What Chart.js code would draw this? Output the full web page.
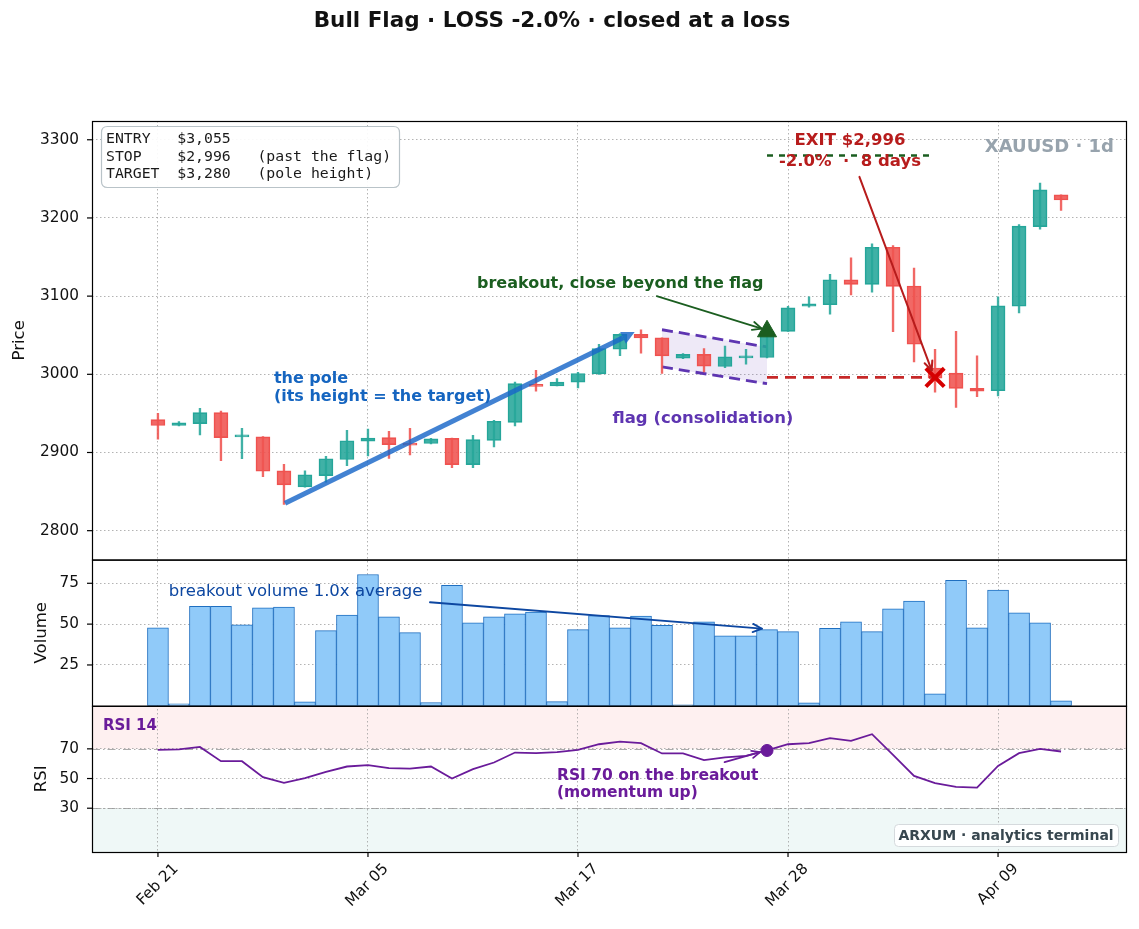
<!DOCTYPE html>
<html><head><meta charset="utf-8">
<script src="https://cdn.jsdelivr.net/npm/chart.js@4/dist/chart.umd.min.js"></script>
<style>html,body{margin:0;padding:0;background:#fff;}#wrap{position:relative;width:1139px;height:929px;}</style>
</head><body><div id="wrap"><canvas id="c" width="1139" height="929"></canvas></div>
<script>
// ---------------- data ----------------
const dates = ['Feb 21','Feb 23','Feb 24','Feb 25','Feb 26','Feb 27','Feb 28','Mar 02','Mar 03','Mar 04',
  'Mar 05','Mar 06','Mar 07','Mar 09','Mar 10','Mar 11','Mar 12','Mar 13','Mar 14','Mar 16',
  'Mar 17','Mar 18','Mar 19','Mar 20','Mar 21','Mar 23','Mar 24','Mar 25','Mar 26','Mar 27',
  'Mar 28','Mar 30','Mar 31','Apr 01','Apr 02','Apr 03','Apr 04','Apr 06','Apr 07','Apr 08',
  'Apr 09','Apr 10','Apr 11','Apr 13'];
const opens  = [2942,2934.5,2937,2951,2920,2920,2876.5,2856,2870.5,2891,2914.5,2919,2912,2911.5,2918,2884.5,2915.5,2938.5,2987,2985,
  2990,3000.5,3032,3051,3046.5,3020.5,3025.5,3010,3021,3021.5,3055,3087,3089,3121,3115,3162.5,3113,3008,3001.5,2982,
  2979,3087,3189,3229.5];
const highs  = [2950,2939.5,2956.5,2953,2931,2920.5,2885,2876.5,2895,2928.5,2930,2927,2931,2918,2918.5,2922,2941,2990,3005,2994.5,
  3002.5,3038.5,3052,3057,3046.7,3026.5,3033,3036,3032,3058,3087,3099,3128,3149,3167,3164.5,3136,3032,3055,3023.5,
  3099,3191.5,3244.5,3229.5];
const lows   = [2917,2934,2922.5,2889.5,2892,2869,2833.5,2855.5,2862,2883,2895.5,2892.5,2897,2911,2880.5,2880.5,2907,2934,2978.5,2985,
  2982.5,3000,3024,3027,3001,3020,3003,3008.5,3013,3021,3055,3086,3077,3101.5,3105,3054.5,3016,2977,2957.5,2971.5,
  2972.5,3078.5,3185.5,3209.5];
const closes = [2934.5,2938,2951,2919,2920.5,2876,2858.5,2871.5,2892,2915,2918.5,2910,2909.5,2917.5,2884.5,2916.5,2940,2988,2984.5,2990,
  3001,3033,3051,3046.5,3023.5,3025.5,3010.5,3022.5,3022.5,3055,3085,3090,3121,3115,3162.5,3112.5,3038.5,2995,2982,2978.5,
  3087.5,3189.5,3236,3223];
const volumes = [47.8,1.2,60.9,60.9,49.6,59.9,60.5,2.4,46.0,55.6,80.4,54.4,44.8,2.0,73.8,50.8,54.4,56.3,57.3,2.6,
  46.6,55.2,47.8,55.0,49.2,0.6,51.4,42.9,42.9,46.6,45.4,1.8,47.4,51.4,45.4,59.3,64.1,7.3,76.8,47.8,
  70.8,56.9,50.8,3.0];
const rsi = [69.3,69.6,71.3,61.7,61.7,50.9,47.1,50.2,54.5,58.1,59.0,57.0,56.7,58.1,50.0,56.3,60.8,67.5,67.1,67.8,
  69.3,73.1,74.9,73.8,66.9,66.9,62.4,64.2,65.3,68.9,73.1,73.8,77.2,75.4,79.9,66.0,51.8,46.9,44.4,43.9,
  58.5,67.1,70.0,68.2];
const xTickIdx = [0,10,20,30,40];
const priceTicks = [2800,2900,3000,3100,3200,3300];
const volTicks = [25,50,75];
const rsiTicks = [30,50,70];
const rsiLevels = [70,30];
const entryIdx = 29, entryPrice = 3055;
const exitIdx = 37, exitPrice = 2996;
const targetPrice = 3280;
const flagStart = 24, flagEnd = 29;
const flagTopY = [3057,3035];
const flagBotY = [3009.5,2988];
const poleFrom = [6.05,2835], poleTo = [22.7,3054];

// ---------------- helpers ----------------
const FAM = '"DejaVu Sans", "Liberation Sans", sans-serif';
const MONO = '"DejaVu Sans Mono", "Liberation Mono", monospace';
const fnt = (sz,b)=> (b?'bold ':'')+sz+'px '+FAM;
const idx = dates.map((d,i)=>i);
const up = i => closes[i] >= opens[i];
const UPF='rgba(38,166,154,0.88)', DNF='rgba(239,83,80,0.88)', UPC='#26A69A', DNC='#EF5350';
const money = v => '$'+v.toLocaleString('en-US');

function rr(ctx,x,y,w,h,r){ctx.beginPath();ctx.moveTo(x+r,y);ctx.lineTo(x+w-r,y);ctx.quadraticCurveTo(x+w,y,x+w,y+r);
  ctx.lineTo(x+w,y+h-r);ctx.quadraticCurveTo(x+w,y+h,x+w-r,y+h);ctx.lineTo(x+r,y+h);ctx.quadraticCurveTo(x,y+h,x,y+h-r);
  ctx.lineTo(x,y+r);ctx.quadraticCurveTo(x,y,x+r,y);ctx.closePath();}
function txt(ctx,lines,x,y,font,color,align,lh){ctx.font=font;ctx.fillStyle=color;ctx.textAlign=align||'left';ctx.textBaseline='middle';
  lines.forEach((l,k)=>ctx.fillText(l,x,y+k*(lh||0)));}
function arrow(ctx,x1,y1,x2,y2,color,lw,head){ctx.save();ctx.strokeStyle=color;ctx.lineWidth=lw;ctx.lineCap='round';ctx.lineJoin='round';
  ctx.beginPath();ctx.moveTo(x1,y1);ctx.lineTo(x2,y2);ctx.stroke();
  const an=Math.atan2(y2-y1,x2-x1),a=0.42;
  ctx.beginPath();ctx.moveTo(x2-head*Math.cos(an-a),y2-head*Math.sin(an-a));ctx.lineTo(x2,y2);ctx.lineTo(x2-head*Math.cos(an+a),y2-head*Math.sin(an+a));ctx.stroke();
  ctx.restore();}

const annot = {
  id:'annot',
  beforeDraw(chart){
    const {ctx, chartArea:a, scales:{yr}} = chart;
    ctx.save();
    ctx.fillStyle='#fff';ctx.fillRect(0,0,chart.width,chart.height);
    const y70=yr.getPixelForValue(70), y30=yr.getPixelForValue(30);
    ctx.fillStyle='rgba(239,83,80,0.085)';ctx.fillRect(a.left,yr.top,a.right-a.left,y70-yr.top);
    ctx.fillStyle='rgba(38,166,154,0.075)';ctx.fillRect(a.left,y30,a.right-a.left,yr.bottom-y30);
    ctx.restore();
  },
  beforeDatasetsDraw(chart){
    const {ctx, chartArea:a, scales:{yr}} = chart;
    ctx.save();ctx.strokeStyle='rgba(150,150,150,0.8)';ctx.lineWidth=1.2;ctx.setLineDash([8,3,1.5,3]);
    rsiLevels.forEach(v=>{const p=Math.round(yr.getPixelForValue(v))+0.5;ctx.beginPath();ctx.moveTo(a.left,p);ctx.lineTo(a.right,p);ctx.stroke();});
    ctx.restore();
  },
  afterDatasetsDraw(chart){
    const {ctx, chartArea:a, scales:{x,y,yv,yr}} = chart;
    const X=v=>x.getPixelForValue(v);
    ctx.save();
    // pole arrow
    {const x1=X(poleFrom[0]),y1=y.getPixelForValue(poleFrom[1]),x2=X(poleTo[0]),y2=y.getPixelForValue(poleTo[1]);
     const an=Math.atan2(y2-y1,x2-x1),hl=13,hw=6.5;const bx=x2-hl*Math.cos(an),by=y2-hl*Math.sin(an);
     ctx.strokeStyle='rgba(25,103,200,0.82)';ctx.fillStyle='rgba(25,103,200,0.82)';ctx.lineWidth=5;ctx.lineCap='butt';
     ctx.beginPath();ctx.moveTo(x1,y1);ctx.lineTo(bx,by);ctx.stroke();
     ctx.beginPath();ctx.moveTo(x2,y2);ctx.lineTo(bx+hw*Math.sin(an),by-hw*Math.cos(an));ctx.lineTo(bx-hw*Math.sin(an),by+hw*Math.cos(an));ctx.closePath();ctx.fill();}
    txt(ctx,['the pole','(its height = the target)'],X(5.52),y.getPixelForValue(2993.6),fnt(16,true),'#1565C0','left',17.7);
    // breakout
    txt(ctx,['breakout, close beyond the flag'],X(15.19),y.getPixelForValue(3115.4),fnt(16,true),'#1B5E20','left');
    arrow(ctx,X(23.75),y.getPixelForValue(3100),X(28.75),y.getPixelForValue(3058.5),'#1B5E20',1.8,10);
    // flag label
    txt(ctx,['flag (consolidation)'],X(25.95),y.getPixelForValue(2943.6),fnt(16.5,true),'#5E35B1','center');
    // exit
    txt(ctx,['EXIT '+money(exitPrice),'-2.0%  ·  8 days'],X(32.95),y.getPixelForValue(3298.7),fnt(16.5,true),'#B71C1C','center',20.7);
    arrow(ctx,X(33.4),y.getPixelForValue(3252.6),X(36.84),y.getPixelForValue(3005),'#B71C1C',2,10);
    // XAUUSD
    txt(ctx,['XAUUSD · 1d'],a.right-13,a.top+26,fnt(18,true),'#97A3AD','right');
    // info box
    {const bx=a.left+9.5,by=a.top+5.5,bw=298,bh=61;rr(ctx,bx,by,bw,bh,6);ctx.fillStyle='rgba(255,255,255,0.92)';ctx.fill();
     ctx.strokeStyle='#B9C3C8';ctx.lineWidth=1.2;ctx.stroke();
     txt(ctx,['ENTRY   '+money(entryPrice),'STOP    '+money(exitPrice)+'   (past the flag)','TARGET  '+money(targetPrice)+'   (pole height)'],
       bx+4.5,by+13,'14.8px '+MONO,'#1a1a1a','left',17.5);}
    // volume annotation
    txt(ctx,['breakout volume 1.0x average'],X(0.52),yv.getPixelForValue(70.1),fnt(16.5,false),'#0D47A1','left');
    arrow(ctx,X(12.95),yv.getPixelForValue(63.4),X(28.76),yv.getPixelForValue(47.2),'#0D47A1',1.8,10);
    // RSI annotations
    txt(ctx,['RSI 14'],X(-2.62),yr.getPixelForValue(85.5),fnt(15,true),'#6A1B9A','left');
    txt(ctx,['RSI 70 on the breakout','(momentum up)'],X(19.0),yr.getPixelForValue(51.8),fnt(15.5,true),'#6A1B9A','left',16.7);
    arrow(ctx,X(26.98),yr.getPixelForValue(61),X(28.67),yr.getPixelForValue(67.8),'#6A1B9A',1.8,9);
    // brand box
    {const bw=224,bh=22,bx=a.right-9-bw,by=a.bottom-6-bh;rr(ctx,bx+0.5,by+0.5,bw,bh,4);ctx.fillStyle='rgba(255,255,255,0.9)';ctx.fill();
     ctx.strokeStyle='#D5DADD';ctx.lineWidth=1;ctx.stroke();
     txt(ctx,['ARXUM · analytics terminal'],bx+bw/2,by+bh/2+1,fnt(14,true),'#37474F','center');}
    ctx.restore();
  },
  afterDraw(chart){
    const {ctx, chartArea:a, scales:{x,y,yv,yr}} = chart;
    ctx.save();
    ctx.strokeStyle='#000';ctx.lineWidth=1.2;
    [y,yv,yr].forEach(s=>{ctx.strokeRect(a.left+0.5,s.top+0.5,a.right-a.left-1,s.bottom-s.top);
      s.ticks.forEach(t=>{const p=s.getPixelForValue(t.value);ctx.beginPath();ctx.moveTo(a.left-5,p);ctx.lineTo(a.left,p);ctx.stroke();});});
    x.ticks.forEach(t=>{const p=x.getPixelForValue(t.value);ctx.beginPath();ctx.moveTo(p,a.bottom);ctx.lineTo(p,a.bottom+5);ctx.stroke();});
    txt(ctx,['Bull Flag · LOSS -2.0% · closed at a loss'],552,21,fnt(21.5,true),'#111','center');
    ctx.restore();
  }
};

const gridOpts = {color:'rgba(160,160,160,0.8)',lineWidth:1,drawTicks:false,offset:false};
const borderOpts = {display:false,dash:[1.5,2.5]};
const tickFont = {family:FAM,size:15.3};
const yFit = s=>{s.width=92;s.paddingTop=0;s.paddingBottom=0;};

const datasets = [
  {type:'bar',label:'Volume',yAxisID:'yv',data:idx.map(i=>({x:i,y:volumes[i]})),backgroundColor:'#90CAF9',borderColor:'#1F6FC0',
   borderWidth:1,borderSkipped:false,barThickness:21,grouped:false,order:10},
  {type:'line',label:'flagTop',yAxisID:'y',data:[{x:flagStart,y:flagTopY[0]},{x:flagEnd,y:flagTopY[1]}],borderColor:'#5E35B1',
   borderWidth:2.8,borderDash:[11,6],pointRadius:0,fill:false,order:9},
  {type:'line',label:'flagBottom',yAxisID:'y',data:[{x:flagStart,y:flagBotY[0]},{x:flagEnd,y:flagBotY[1]}],borderColor:'#5E35B1',
   borderWidth:2.8,borderDash:[11,6],pointRadius:0,fill:'-1',backgroundColor:'rgba(126,87,194,0.13)',order:9},
  {type:'bar',label:'wick',yAxisID:'y',data:idx.map(i=>({x:i,y:[lows[i],highs[i]]})),backgroundColor:idx.map(i=>up(i)?UPF:DNF),
   borderWidth:0,barThickness:1.7,grouped:false,order:8},
  {type:'bar',label:'body',yAxisID:'y',data:idx.map(i=>({x:i,y:[opens[i],closes[i]]})),backgroundColor:idx.map(i=>up(i)?UPF:DNF),
   borderColor:idx.map(i=>up(i)?UPC:DNC),borderWidth:1,borderSkipped:false,barThickness:14,minBarLength:2,grouped:false,order:7},
  {type:'line',label:'stop',yAxisID:'y',data:[{x:entryIdx,y:exitPrice},{x:exitIdx,y:exitPrice}],borderColor:'#C62828',
   borderWidth:2.8,borderDash:[11,7],pointRadius:0,fill:false,order:5},
  {type:'line',label:'target',yAxisID:'y',data:[{x:entryIdx,y:targetPrice},{x:exitIdx,y:targetPrice}],borderColor:'#1B5E20',
   borderWidth:2.5,borderDash:[6,6],pointRadius:0,fill:false,order:5},
  {type:'line',label:'RSI',yAxisID:'yr',data:idx.map(i=>({x:i,y:rsi[i]})),borderColor:'#6A1B9A',borderWidth:1.8,pointRadius:0,
   tension:0,fill:false,order:5},
  {type:'line',label:'entry',yAxisID:'y',showLine:false,data:[{x:entryIdx,y:entryPrice}],pointStyle:'triangle',pointRadius:11,
   pointBackgroundColor:'#1B5E20',pointBorderColor:'#1B5E20',pointBorderWidth:1,order:1},
  {type:'line',label:'exit',yAxisID:'y',showLine:false,data:[{x:exitIdx,y:exitPrice}],pointStyle:'crossRot',pointRadius:13,
   pointBorderColor:'#D50000',pointBorderWidth:4,order:1},
  {type:'line',label:'rsiDot',yAxisID:'yr',showLine:false,data:[{x:entryIdx,y:rsi[entryIdx]}],pointStyle:'circle',pointRadius:6,
   pointBackgroundColor:'#6A1B9A',pointBorderColor:'#6A1B9A',order:1}
];

new Chart(document.getElementById('c'),{
  type:'bar',
  data:{datasets},
  options:{
    responsive:false,animation:false,events:[],devicePixelRatio:1,
    layout:{autoPadding:false,padding:{top:121,left:0,right:12,bottom:0}},
    plugins:{legend:{display:false},tooltip:{enabled:false},title:{display:false}},
    scales:{
      x:{type:'linear',position:'bottom',min:-3.14,max:46.14,offset:false,grid:gridOpts,border:borderOpts,
        afterBuildTicks:s=>{s.ticks=xTickIdx.map(v=>({value:v}));},
        afterFit:s=>{s.height=77;s.paddingLeft=0;s.paddingRight=0;},
        ticks:{autoSkip:false,minRotation:45,maxRotation:45,padding:8,labelOffset:18,font:tickFont,color:'#111',
          callback:v=>dates[v]}},
      y:{type:'linear',position:'left',stack:'panels',stackWeight:3,weight:3,min:2763,max:3324,grid:gridOpts,border:borderOpts,
        afterBuildTicks:s=>{s.ticks=priceTicks.map(v=>({value:v}));},afterFit:yFit,
        ticks:{padding:13,font:tickFont,color:'#111',callback:v=>String(v)},
        title:{display:true,text:'Price',font:{family:FAM,size:16.5},color:'#111',padding:{top:10,bottom:0}}},
      yv:{type:'linear',position:'left',stack:'panels',stackWeight:1,weight:2,min:0,max:89.5,grid:gridOpts,border:borderOpts,
        afterBuildTicks:s=>{s.ticks=volTicks.map(v=>({value:v}));},afterFit:yFit,
        ticks:{padding:13,font:tickFont,color:'#111',callback:v=>String(v)},
        title:{display:true,text:'Volume',font:{family:FAM,size:16.5},color:'#111',padding:{top:32,bottom:0}}},
      yr:{type:'linear',position:'left',stack:'panels',stackWeight:1,weight:1,min:0.5,max:99,grid:gridOpts,border:borderOpts,
        afterBuildTicks:s=>{s.ticks=rsiTicks.map(v=>({value:v}));},afterFit:yFit,
        ticks:{padding:13,font:tickFont,color:'#111',callback:v=>String(v)},
        title:{display:true,text:'RSI',font:{family:FAM,size:16.5},color:'#111',padding:{top:32,bottom:0}}}
    }
  },
  plugins:[annot]
});
</script></body></html>
